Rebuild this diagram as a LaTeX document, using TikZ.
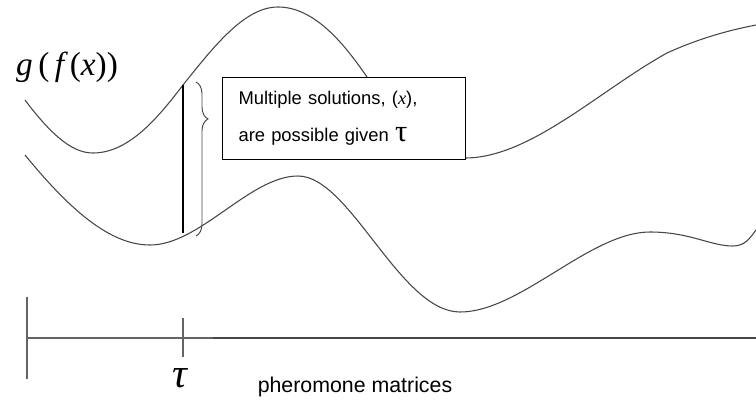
\documentclass[tikz,border=0pt]{standalone}
\usepackage{fontspec}
\setmainfont{Liberation Sans}
\newfontfamily\timesfont{Liberation Serif}
\usetikzlibrary{decorations.pathreplacing,positioning}
\definecolor{curvecolor}{RGB}{70,70,70}
\definecolor{axiscolor}{RGB}{100,100,100}
\begin{document}
\begin{tikzpicture}[x=0.75pt,y=-0.75pt,
  curve/.style={curvecolor, line width=0.8pt},
  axisline/.style={axiscolor, line width=0.8pt},
  notebox/.style={draw, fill=white, line width=0.8pt, align=left, inner xsep=12pt,
    inner ysep=0pt, text width=158pt, minimum height=61.5pt,
    font=\fontsize{13.8}{27.75}\selectfont}]
  \useasboundingbox (0,0) rectangle (756,407);
  \draw[curve] (25,100) .. controls (55,140) and (75,153) .. (93,153)
    .. controls (130,153) and (160,115) .. (183,85)
    .. controls (215,45) and (245,7) .. (278,7)
    .. controls (315,7) and (345,45) .. (367,77)
    .. controls (400,125) and (430,158) .. (465,158)
    .. controls (530,158) and (600,90) .. (667,53)
    .. controls (700,38) and (730,30) .. (756,25);
  \draw[curve] (25,155) .. controls (70,210) and (110,245) .. (150,245)
    .. controls (200,245) and (250,176) .. (298,176)
    .. controls (350,176) and (400,312) .. (460,312)
    .. controls (520,312) and (590,232) .. (650,232)
    .. controls (690,232) and (710,246) .. (733,246)
    .. controls (745,246) and (750,238) .. (756,230);
  \coordinate (top) at (183,85);
  \coordinate (bot) at (183,233);
  \draw[line width=2pt] (top) -- (bot);
  \draw[curvecolor, line width=0.7pt, decorate,
    decoration={brace, amplitude=9pt, aspect=0.24}] (196,82) -- (196,236);
  \node[notebox, anchor=north west] (note) at (222,77)
    {Multiple solutions, ({\timesfont\itshape x}),\\
     are possible given {\timesfont\fontsize{23}{23}\selectfont τ}};
  \node[font=\timesfont\fontsize{25}{25}\selectfont] (gfx) at (67,67)
    {\itshape g\upshape\,(\,\itshape f\upshape\,(\itshape x\upshape))};
  % axis
  \coordinate (o) at (27,338);
  \coordinate (mid) at (213,338);
  \coordinate (end) at (756,338);
  \coordinate (t) at (183,338);
  \draw[axisline] (o) -- (mid);
  \draw[curve] (mid) -- (end);
  \draw[axisline] ([yshift=31]o) -- ([yshift=-31]o);
  \draw[axisline] ([yshift=15]t) -- ([yshift=-14]t);
  \node[font=\timesfont\itshape\fontsize{31}{31}\selectfont] (tau) at (180,378) {τ};
  \node[font=\fontsize{16}{16}\selectfont] (xlab) at (355,387) {pheromone matrices};
\end{tikzpicture}
\end{document}
